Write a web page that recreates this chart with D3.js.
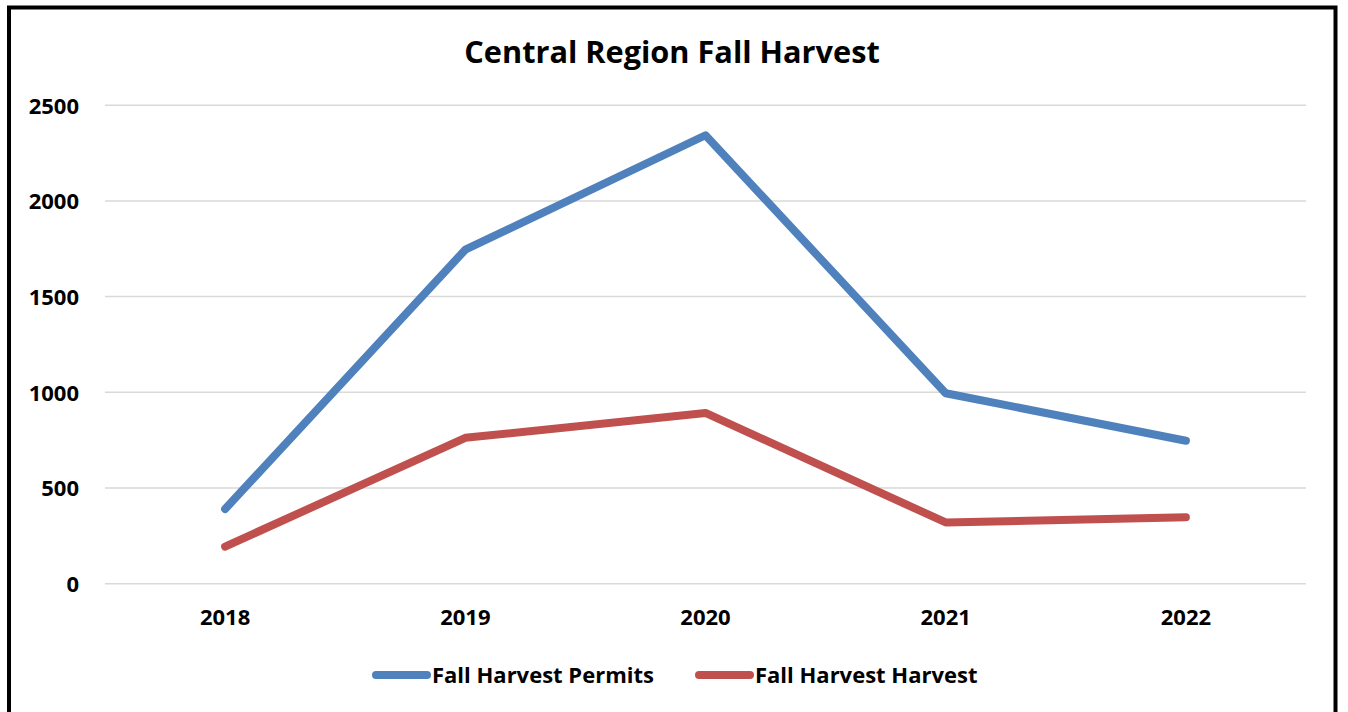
<!DOCTYPE html>
<html>
<head>
<meta charset="utf-8">
<script src="https://cdn.jsdelivr.net/npm/d3@7"></script>
<style>
  html, body { margin: 0; padding: 0; background: #fff; }
  svg { display: block; }
  text { font-family: "Open Sans", Lato, sans-serif; font-weight: bold; fill: #000; }
</style>
</head>
<body>
<svg id="chart" width="1348" height="712"></svg>
<script>
const title = "Central Region Fall Harvest";
const categories = ["2018", "2019", "2020", "2021", "2022"];
const permits = [390, 1745, 2343, 995, 747];
const harvest = [194, 762, 892, 320, 347];
const yTicks = [0, 500, 1000, 1500, 2000, 2500];
const seriesNames = ["Fall Harvest Permits", "Fall Harvest Harvest"];
const seriesColors = ["#4f81bd", "#c0504d"];

(function () {
const svg = d3.select("#chart");
const FONT = '"Open Sans", Lato, sans-serif';

// outer border
svg.append("rect").attr("x", 9).attr("y", 7.5).attr("width", 1326.5).attr("height", 720)
  .attr("fill", "#fff").attr("stroke", "#000").attr("stroke-width", 4);

const pLeft = 105, pRight = 1306, pTop = 105.2, pBottom = 583.7;
const x = d3.scaleBand().domain(categories).range([pLeft, pRight]);
const y = d3.scaleLinear().domain([0, 2500]).range([pBottom, pTop]);

// gridlines
svg.append("g").selectAll("line").data(yTicks).join("line")
  .attr("x1", pLeft).attr("x2", pRight)
  .attr("y1", d => y(d)).attr("y2", d => y(d))
  .attr("stroke", "#d9d9d9").attr("stroke-width", 1.5);

// y axis labels
const yAxis = d3.axisLeft(y).tickValues(yTicks).tickFormat(d3.format("d")).tickSize(0).tickPadding(0);
const gy = svg.append("g").attr("transform", `translate(${pLeft - 26},0)`).call(yAxis);
gy.select(".domain").remove();
gy.selectAll("text").style("font-size", "22px").attr("dy", "0.36em")
  .style("font-family", FONT).style("font-weight", "bold").attr("fill", "#000");

// x axis labels
const xAxis = d3.axisBottom(x).tickSize(0).tickPadding(0);
const gx = svg.append("g").attr("transform", `translate(0,${pBottom + 26})`).call(xAxis);
gx.select(".domain").remove();
gx.selectAll("text").style("font-size", "22px").attr("dy", "0.71em")
  .style("font-family", FONT).style("font-weight", "bold").attr("fill", "#000");

// title
svg.append("text").attr("x", 672).attr("y", 63).attr("text-anchor", "middle")
  .style("font-size", "30.7px").text(title);

// lines
const line = d3.line().x((d, i) => x(categories[i]) + x.bandwidth() / 2).y(d => y(d));
[permits, harvest].forEach((s, k) => {
  svg.append("path").datum(s).attr("d", line)
    .attr("fill", "none").attr("stroke", seriesColors[k]).attr("stroke-width", 8)
    .attr("stroke-linecap", "round").attr("stroke-linejoin", "round");
});

// legend
const legendItems = [{x1: 376, x2: 427, tx: 432}, {x1: 699, x2: 750, tx: 755}];
legendItems.forEach((it, k) => {
  svg.append("line").attr("x1", it.x1).attr("x2", it.x2).attr("y1", 675).attr("y2", 675)
    .attr("stroke", seriesColors[k]).attr("stroke-width", 8).attr("stroke-linecap", "round");
  svg.append("text").attr("x", it.tx).attr("y", 683).style("font-size", "22px").text(seriesNames[k]);
});
})();
</script>
</body>
</html>
